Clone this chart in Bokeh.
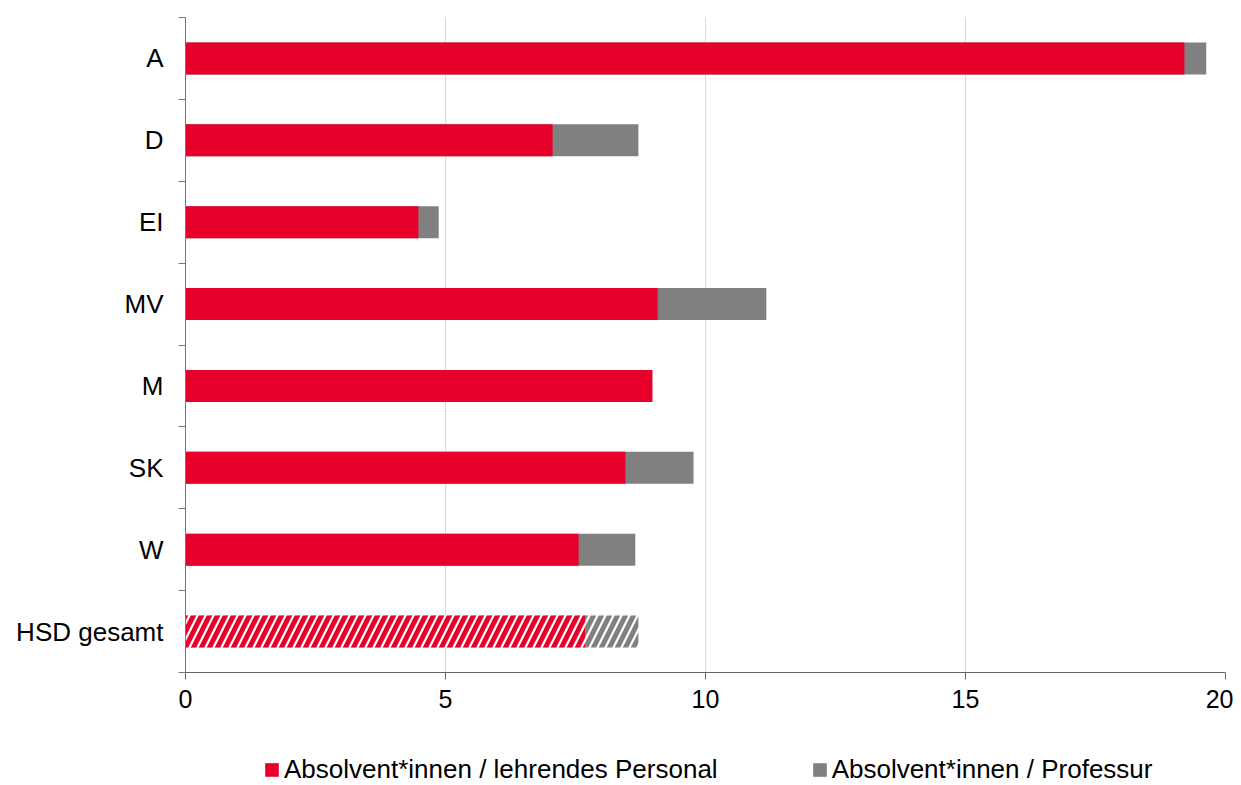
from bokeh.plotting import figure
from bokeh.layouts import column
from bokeh.models import (ColumnDataSource, Range1d, FixedTicker, Legend, LegendItem)
from bokeh.embed import file_html
from bokeh.resources import INLINE

# ---- data ----
categories = ["A", "D", "EI", "MV", "M", "SK", "W", "HSD gesamt"]
per_lehrpersonal = [19.21, 7.06, 4.48, 9.08, 8.98, 8.46, 7.56, 7.69]
per_professur = [19.63, 8.71, 4.87, 11.17, float("nan"), 9.77, 8.65, 8.71]
total_category = "HSD gesamt"
x_ticks = [0, 5, 10, 15, 20]
label_personal = "Absolvent*innen / lehrendes Personal"
label_professur = "Absolvent*innen / Professur"

RED = "#E6002A"
GRAY = "#808080"
FONT = "Liberation Sans"

ypos = [i + 0.5 for i in range(len(categories))]
is_total = [c == total_category for c in categories]

def subset(flag):
    idx = [i for i, t in enumerate(is_total) if t == flag]
    return ColumnDataSource(dict(
        y=[ypos[i] for i in idx],
        personal=[per_lehrpersonal[i] for i in idx],
        professur=[per_professur[i] for i in idx],
    ))

src_main = subset(False)
src_total = subset(True)

p = figure(width=1233, height=725, output_backend="svg", toolbar_location=None,
           x_range=Range1d(0, 20), y_range=Range1d(len(categories), 0),
           min_border_left=185, min_border_right=8, min_border_top=17,
           min_border_bottom=53)
p.outline_line_color = None
p.background_fill_color = "white"

H = 0.39
p.hbar(y="y", right="professur", left=0, height=H, source=src_main,
       fill_color=GRAY, line_color=None)
p.hbar(y="y", right="personal", left=0, height=H, source=src_main,
       fill_color=RED, line_color=None)
p.hbar(y="y", right="professur", left=0, height=H, source=src_total,
       fill_color="white", line_color=None, hatch_pattern="/",
       hatch_color=GRAY, hatch_scale=16, hatch_weight=5)
p.hbar(y="y", right="personal", left=0, height=H, source=src_total,
       fill_color="white", line_color=None, hatch_pattern="/",
       hatch_color=RED, hatch_scale=16, hatch_weight=5)

# x axis
xa = p.xaxis[0]
xa.ticker = FixedTicker(ticks=x_ticks)
xa.axis_line_color = "#666666"
xa.major_tick_line_color = "#666666"
xa.major_tick_out = 7
xa.major_tick_in = 0
xa.minor_tick_line_color = None
xa.major_label_text_font = FONT
xa.major_label_text_font_size = "25px"
xa.major_label_text_color = "black"
xa.major_label_standoff = 10

# y axis
ya = p.yaxis[0]
ya.ticker = FixedTicker(ticks=ypos, minor_ticks=list(range(len(categories) + 1)))
ya.major_label_overrides = {y: c for y, c in zip(ypos, categories)}
ya.axis_line_color = "#777777"
ya.major_tick_line_color = None
ya.minor_tick_line_color = "#777777"
ya.minor_tick_out = 7
ya.minor_tick_in = 0
ya.major_label_text_font = FONT
ya.major_label_text_font_size = "26px"
ya.major_label_text_color = "black"
ya.major_label_standoff = 15

p.xgrid.grid_line_color = "#d9d9d9"
p.xgrid.grid_line_width = 1
p.ygrid.grid_line_color = None

# ---- legend strip ----
lg = figure(width=1233, height=60, output_backend="svg", toolbar_location=None,
            x_range=Range1d(0, 1), y_range=Range1d(0, 1),
            x_axis_type=None, y_axis_type=None,
            min_border_left=185, min_border_right=8, min_border_top=0,
            min_border_bottom=0)
lg.outline_line_color = None
lg.xgrid.visible = False
lg.ygrid.visible = False
# zero-size proxy glyphs, only used to give the legend its swatches
r_pers = lg.hbar(y=[0], right=[0], left=0, height=0, fill_color=RED, line_color=None)
r_prof = lg.hbar(y=[0], right=[0], left=0, height=0, fill_color=GRAY, line_color=None)

legend = Legend(items=[LegendItem(label=label_personal, renderers=[r_pers]),
                       LegendItem(label=label_professur, renderers=[r_prof])],
                orientation="horizontal", location=(78, 0),
                glyph_width=17, glyph_height=17, label_standoff=4, spacing=93,
                padding=0, margin=0, border_line_color=None,
                background_fill_alpha=0,
                label_text_font=FONT, label_text_font_size="26px",
                label_text_color="black")
lg.add_layout(legend, "center")

layout = column(p, lg, spacing=0)
open("out.html", "w").write(file_html(layout, INLINE))
